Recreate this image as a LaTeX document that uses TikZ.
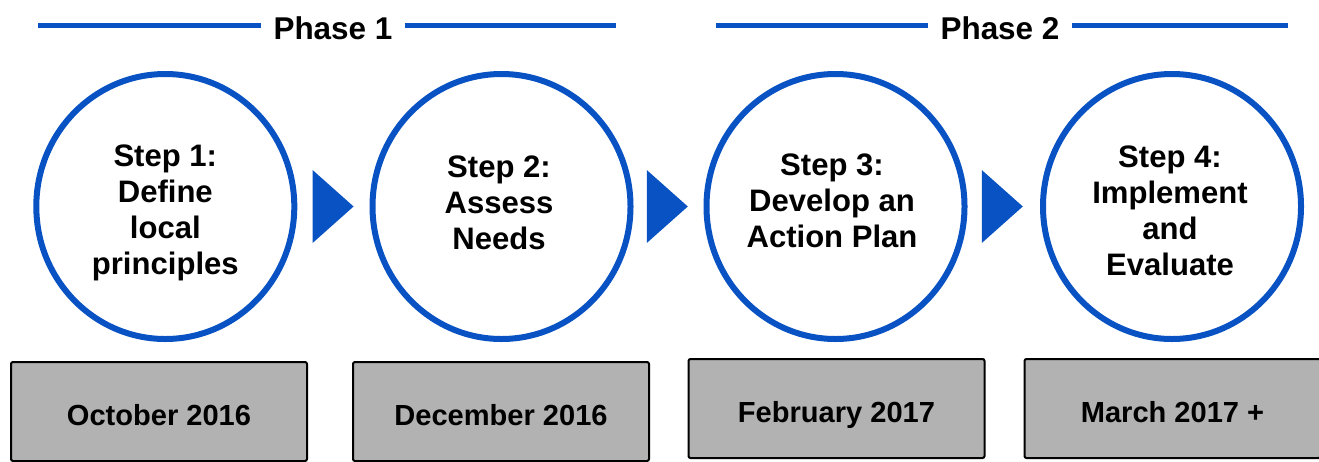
\documentclass[tikz,border=0pt]{standalone}
\usepackage{fontspec}
\setmainfont{Liberation Sans}
\usetikzlibrary{shapes.geometric,calc}
\definecolor{stepblue}{RGB}{8,82,196}
\definecolor{dategray}{RGB}{178,178,178}

\begin{document}
\begin{tikzpicture}[x=0.75pt,y=-0.75pt,
    stepcircle/.style={ellipse,draw=stepblue,line width=4.5pt,minimum width=193.5pt,
      minimum height=198.75pt,inner sep=0pt},
    steptext/.style={align=center,inner sep=0pt,font=\fontsize{23.3}{27}\selectfont\bfseries},
    datebox/.style={rectangle,draw=black,line width=1.5pt,fill=dategray,rounded corners=1.5pt,
      minimum width=222pt,minimum height=74.25pt,text height=20.4pt,text depth=0pt,
      font=\fontsize{21.8}{26}\selectfont\bfseries},
    pointer/.style={isosceles triangle,isosceles triangle stretches,fill=stepblue,
      minimum width=54.75pt,minimum height=30.75pt,inner sep=0pt,anchor=west},
    phaseline/.style={stepblue,line width=3.75pt},
    phaselabel/.style={font=\fontsize{23.6}{28}\selectfont\bfseries,inner xsep=9pt}]
    \useasboundingbox (0,0) rectangle (1319,461);

    % phase headers
    \node[phaselabel] (ph1) at (333,28) {Phase 1};
    \node[phaselabel] (ph2) at (1000,28) {Phase 2};
    \coordinate (ph1l) at (38,25);
    \coordinate (ph1r) at (616,25);
    \coordinate (ph2l) at (716,25);
    \coordinate (ph2r) at (1288,25);
    \draw[phaseline] (ph1l) -- (ph1l -| ph1.west);
    \draw[phaseline] (ph1.east |- ph1r) -- (ph1r);
    \draw[phaseline] (ph2l) -- (ph2l -| ph2.west);
    \draw[phaseline] (ph2.east |- ph2r) -- (ph2r);

    % the four steps
    \node[stepcircle] (s1) at (165.3,206.5) {};
    \node[stepcircle] (s2) at (501.5,206.5) {};
    \node[stepcircle] (s3) at (835.5,206.5) {};
    \node[stepcircle] (s4) at (1172,206.5) {};
    \node[steptext] (t1) at (165.3,212.5) {Step 1:\\Define\\local\\principles};
    \node[steptext] (t2) at (499,203) {Step 2:\\Assess\\Needs};
    \node[steptext] (t3) at (832,201) {Step 3:\\Develop an\\Action Plan};
    \node[steptext] (t4) at (1170,211) {Step 4:\\Implement\\and\\Evaluate};

    \node[pointer] (p1) at ($(s1.east)+(15,0)$) {};
    \node[pointer] (p2) at ($(s2.east)+(13,0)$) {};
    \node[pointer] (p3) at ($(s3.east)+(14,0)$) {};

    % dates
    \node[datebox] (d1) at (159,411.5) {October 2016};
    \node[datebox] (d2) at (501,411.5) {December 2016};
    \node[datebox] (d3) at (836.5,408.5) {February 2017};
    \node[datebox] (d4) at (1172.5,408.5) {March 2017 +};
  \end{tikzpicture}
\end{document}
